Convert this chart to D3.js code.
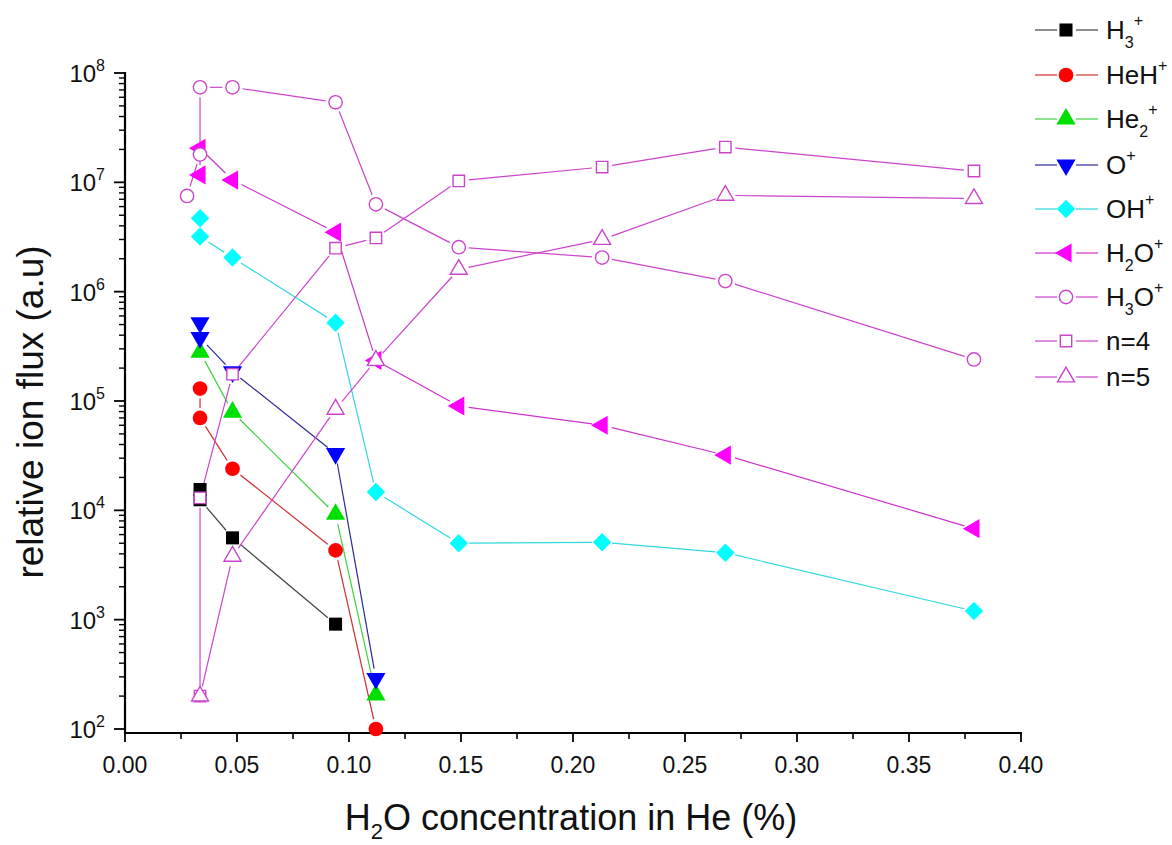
<!DOCTYPE html>
<html>
<head>
<meta charset="utf-8">
<script src="https://cdn.jsdelivr.net/npm/d3@7"></script>
<style>
  body { margin: 0; background: #fff; }
  svg { display: block; }
  text { font-family: "Liberation Sans", Arial, sans-serif; fill: #111; }
</style>
</head>
<body>
<script>
// ---- data ----
const xTicks = [0.0, 0.05, 0.10, 0.15, 0.20, 0.25, 0.30, 0.35, 0.40];
const yExponents = [2, 3, 4, 5, 6, 7, 8];

const h3 = [[0.0335, 1.55e4], [0.0335, 1.25e4], [0.048, 5.6e3], [0.094, 9.1e2]];
const heh = [[0.0335, 1.3e5], [0.0335, 7.0e4], [0.048, 2.4e4], [0.094, 4.3e3], [0.112, 100]];
const he2 = [[0.0335, 2.8e5], [0.048, 7.9e4], [0.094, 9.2e3], [0.112, 205]];
const oPlus = [[0.0335, 5.2e5], [0.0335, 3.8e5], [0.048, 1.85e5], [0.094, 3.3e4], [0.112, 290]];
const ohPlus = [[0.0335, 4.7e6], [0.0335, 3.2e6], [0.048, 2.05e6], [0.094, 5.2e5], [0.112, 1.47e4],
  [0.149, 5.0e3], [0.213, 5.1e3], [0.268, 4.1e3], [0.379, 1.2e3]];
const h2o = [[0.0335, 1.17e7], [0.0335, 2.05e7], [0.048, 1.05e7], [0.094, 3.5e6], [0.112, 2.35e5],
  [0.149, 9.0e4], [0.213, 6.0e4], [0.268, 3.2e4], [0.379, 6.8e3]];
const h3o = [[0.0277, 7.5e6], [0.0335, 1.8e7], [0.0335, 7.4e7], [0.048, 7.4e7], [0.094, 5.4e7],
  [0.112, 6.3e6], [0.149, 2.55e6], [0.213, 2.05e6], [0.268, 1.25e6], [0.379, 2.4e5]];
const n4 = [[0.0335, 200], [0.0335, 1.3e4], [0.048, 1.76e5], [0.094, 2.5e6], [0.112, 3.1e6],
  [0.149, 1.03e7], [0.213, 1.38e7], [0.268, 2.1e7], [0.379, 1.27e7]];
const n5 = [[0.0335, 200], [0.048, 3.8e3], [0.094, 8.4e4], [0.112, 2.35e5], [0.149, 1.6e6],
  [0.213, 3.0e6], [0.268, 7.6e6], [0.379, 7.1e6]];

// label pieces: [text, "", "sub" or "sup"]
const labels = [
  [["H", ""], ["3", "sub"], ["+", "sup"]],
  [["HeH", ""], ["+", "sup"]],
  [["He", ""], ["2", "sub"], ["+", "sup"]],
  [["O", ""], ["+", "sup"]],
  [["OH", ""], ["+", "sup"]],
  [["H", ""], ["2", "sub"], ["O", ""], ["+", "sup"]],
  [["H", ""], ["3", "sub"], ["O", ""], ["+", "sup"]],
  [["n=4", ""]],
  [["n=5", ""]]
];

// style table
const series = [
  { data: h3,     marker: "square",   rot: 0,   fill: "#000",    stroke: "none",    line: "#444" },
  { data: heh,    marker: "circle",   rot: 0,   fill: "#ff0000", stroke: "none",    line: "#d03030" },
  { data: he2,    marker: "triangle", rot: 0,   fill: "#00e000", stroke: "none",    line: "#40d040" },
  { data: oPlus,  marker: "triangle", rot: 180, fill: "#0000ff", stroke: "none",    line: "#2a2a9a" },
  { data: ohPlus, marker: "diamond",  rot: 45,  fill: "#00ffff", stroke: "none",    line: "#30d8e0" },
  { data: h2o,    marker: "triangle", rot: -90, fill: "#ff00ff", stroke: "none",    line: "#cc33cc" },
  { data: h3o,    marker: "circle",   rot: 0,   fill: "#fff",    stroke: "#cc44cc", line: "#cc44cc" },
  { data: n4,     marker: "square",   rot: 0,   fill: "#fff",    stroke: "#cc44cc", line: "#cc44cc" },
  { data: n5,     marker: "triangle", rot: 0,   fill: "#fff",    stroke: "#cc44cc", line: "#cc44cc" }
];

const W = 1172, H = 845;
const x0 = 125, x1 = 1021, yTop = 73, yBase = 733;

const svg = d3.select("body").append("svg").attr("width", W).attr("height", H);

const x = d3.scaleLinear().domain([0, 0.4]).range([x0, x1]);
const y = d3.scaleLog().domain([Math.pow(10, 2 - 4 / 109.3), 1e8]).range([yBase, yTop]);

// ---- axes ----
const ax = svg.append("g");
// minor x ticks
ax.selectAll("line.xminor").data(d3.range(0.025, 0.4, 0.05)).enter().append("line")
  .attr("x1", d => x(d)).attr("x2", d => x(d))
  .attr("y1", yBase).attr("y2", yBase + 6)
  .attr("stroke", "#000").attr("stroke-width", 1.6);
ax.selectAll("line.xmajor").data(xTicks).enter().append("line")
  .attr("x1", d => x(d)).attr("x2", d => x(d))
  .attr("y1", yBase).attr("y2", yBase + 9)
  .attr("stroke", "#000").attr("stroke-width", 1.8);
ax.selectAll("text.xl").data(xTicks).enter().append("text")
  .attr("x", d => x(d)).attr("y", yBase + 40)
  .attr("text-anchor", "middle").attr("font-size", 23)
  .text(d => d3.format(".2f")(d));

// y ticks
const yMinor = [];
yExponents.slice(0, -1).forEach(e => { for (let k = 2; k <= 9; k++) yMinor.push(k * Math.pow(10, e)); });
ax.selectAll("line.yminor").data(yMinor).enter().append("line")
  .attr("x1", x0 - 6).attr("x2", x0)
  .attr("y1", d => y(d)).attr("y2", d => y(d))
  .attr("stroke", "#000").attr("stroke-width", 1.4);
ax.selectAll("line.ymajor").data(yExponents).enter().append("line")
  .attr("x1", x0 - 11).attr("x2", x0)
  .attr("y1", d => y(Math.pow(10, d))).attr("y2", d => y(Math.pow(10, d)))
  .attr("stroke", "#000").attr("stroke-width", 1.8);
const yl = ax.selectAll("text.yl").data(yExponents).enter().append("text")
  .attr("x", x0 - 20).attr("y", d => y(Math.pow(10, d)) + 9)
  .attr("text-anchor", "end").attr("font-size", 24);
yl.append("tspan").text("10");
yl.append("tspan").attr("dy", -11).attr("font-size", 16).text(d => d);

ax.append("line").attr("x1", x0).attr("x2", x0).attr("y1", yTop - 1).attr("y2", yBase + 1)
  .attr("stroke", "#000").attr("stroke-width", 2.2);
ax.append("line").attr("x1", x0 - 1).attr("x2", x1 + 1).attr("y1", yBase).attr("y2", yBase)
  .attr("stroke", "#000").attr("stroke-width", 2.2);

// axis titles
const xt = svg.append("text").attr("x", (x0 + x1) / 2 - 2).attr("y", 830)
  .attr("text-anchor", "middle").attr("font-size", 36);
xt.append("tspan").text("H");
xt.append("tspan").attr("dy", 9).attr("font-size", 22).text("2");
xt.append("tspan").attr("dy", -9).text("O concentration in He (%)");

svg.append("text")
  .attr("transform", `translate(43, 412) rotate(-90)`)
  .attr("text-anchor", "middle").attr("font-size", 37)
  .text("relative ion flux (a.u)");

// ---- markers ----
function symbolFor(s) {
  if (s.marker === "square") return d3.symbol(d3.symbolSquare, s.fill === "#fff" ? 130 : 170);
  if (s.marker === "circle") return d3.symbol(d3.symbolCircle, s.fill === "#fff" ? 140 : 170);
  if (s.marker === "diamond") return d3.symbol(d3.symbolSquare, 170);
  return d3.symbol(d3.symbolTriangle, s.fill === "#fff" ? 125 : 160);
}

const gap = 10;
const plot = svg.append("g");
series.forEach(s => {
  const pts = s.data.map(d => [x(d[0]), y(d[1])]);
  const segs = d3.pairs(pts).map(([a, b]) => {
    const dx = b[0] - a[0], dy = b[1] - a[1], len = Math.hypot(dx, dy);
    if (len <= 2 * gap) return null;
    const ux = dx / len, uy = dy / len;
    return [a[0] + ux * gap, a[1] + uy * gap, b[0] - ux * gap, b[1] - uy * gap];
  }).filter(Boolean);
  plot.append("g").selectAll("line").data(segs).enter().append("line")
    .attr("x1", d => d[0]).attr("y1", d => d[1]).attr("x2", d => d[2]).attr("y2", d => d[3])
    .attr("stroke", s.line).attr("stroke-width", 1.2);
});
series.forEach(s => {
  plot.append("g").selectAll("path").data(s.data).enter().append("path")
    .attr("d", symbolFor(s))
    .attr("transform", d => `translate(${x(d[0])},${y(d[1])}) rotate(${s.rot})`)
    .attr("fill", s.fill).attr("stroke", s.stroke).attr("stroke-width", 1.4);
});

// ---- legend ----
const legY = [30, 75, 119, 165, 209, 253, 297, 341, 377];
const leg = svg.append("g");
series.forEach((s, i) => {
  const g = leg.append("g").attr("transform", `translate(0, ${legY[i]})`);
  g.append("line").attr("x1", 1035).attr("x2", 1057).attr("y1", 0).attr("y2", 0)
    .attr("stroke", s.line).attr("stroke-width", 1.2);
  g.append("line").attr("x1", 1076).attr("x2", 1098).attr("y1", 0).attr("y2", 0)
    .attr("stroke", s.line).attr("stroke-width", 1.2);
  g.append("path").attr("d", symbolFor(s))
    .attr("transform", `translate(1066,0) rotate(${s.rot})`)
    .attr("fill", s.fill).attr("stroke", s.stroke).attr("stroke-width", 1.4);
  const t = g.append("text").attr("x", 1106).attr("y", 9).attr("font-size", 26);
  let shift = 0;
  labels[i].forEach(([txt, kind]) => {
    const target = kind === "sub" ? 9 : kind === "sup" ? -13 : 0;
    t.append("tspan").attr("dy", target - shift)
      .attr("font-size", kind ? 16 : 26).text(txt);
    shift = target;
  });
});
</script>
</body>
</html>
